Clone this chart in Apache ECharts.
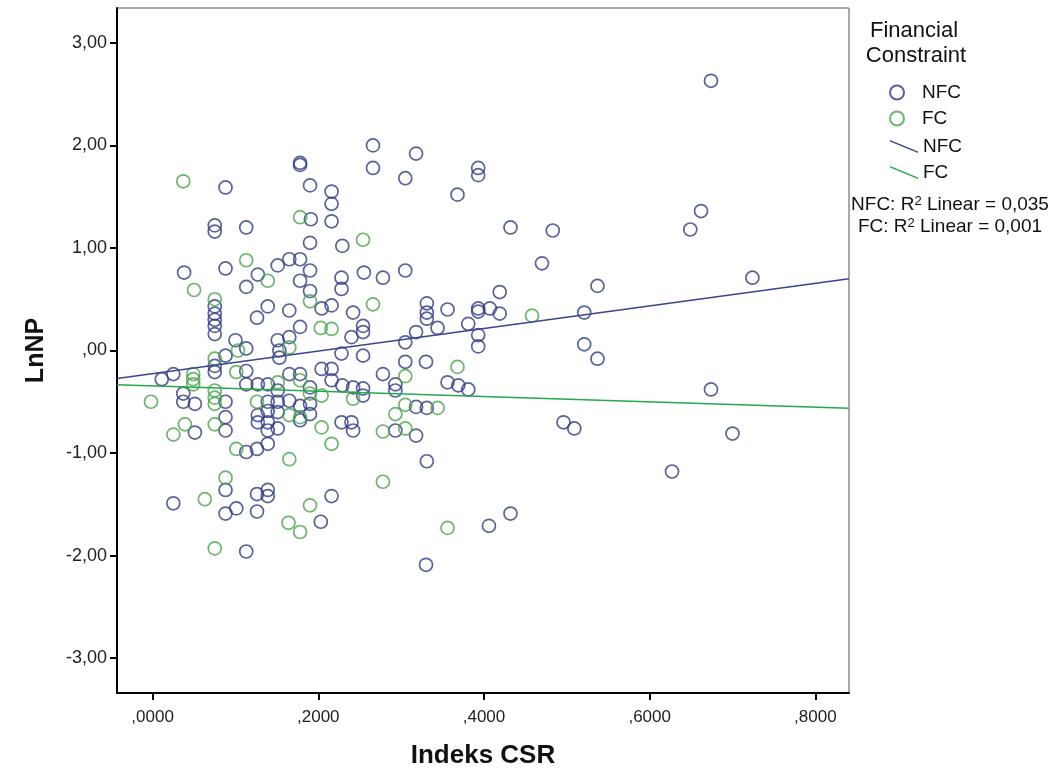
<!DOCTYPE html>
<html>
<head>
<meta charset="utf-8">
<script src="https://cdn.jsdelivr.net/npm/echarts@6/dist/echarts.min.js"></script>
<style>
html,body{margin:0;padding:0;background:#fff;}
#chart{width:1055px;height:777px;}
</style>
</head>
<body>
<div id="chart"></div>
<script>
// ---- data ----
const nfcX = [0.088,0.178,0.178,0.19,0.216,0.216,0.191,0.216,0.075,0.075,0.113,0.266,0.266,0.318,0.305,0.393,0.393,0.368,0.432,0.483,
0.674,0.662,0.649,0.724,0.537,0.537,0.674,0.70,0.627,0.255,0.278,0.305,0.47,0.419,0.331,0.331,0.331,0.356,0.393,0.393,
0.407,0.419,0.521,0.254,0.254,0.318,0.344,0.381,0.305,0.393,0.393,0.521,0.254,0.305,0.33,0.278,0.293,0.293,0.254,0.356,
0.369,0.381,0.318,0.331,0.293,0.318,0.496,0.509,0.331,0.406,0.432,0.33,0.088,0.025,0.088,0.101,0.126,0.139,0.139,0.126,
0.216,0.203,0.113,0.19,0.229,0.038,0.088,0.151,0.165,0.178,0.19,0.228,0.127,0.113,0.178,0.228,0.19,0.075,0.075,0.075,
0.075,0.075,0.139,0.126,0.165,0.178,0.204,0.216,0.242,0.24,0.151,0.165,0.10,0.113,0.088,0.153,0.153,0.228,0.075,0.011,
0.025,0.113,0.113,0.127,0.139,0.165,0.178,0.204,0.216,0.216,0.229,0.242,0.151,0.19,0.254,0.037,0.037,0.051,0.088,0.139,
0.151,0.139,0.151,0.165,0.178,0.19,0.127,0.127,0.139,0.139,0.151,0.178,0.19,0.051,0.088,0.088,0.228,0.24,0.242,0.113,
0.126,0.139,0.075];
const nfcY = [1.59,1.83,1.81,1.61,1.55,1.43,1.28,1.26,1.22,1.16,1.20,2.00,1.78,1.92,1.68,1.78,1.71,1.52,1.20,1.17,
2.63,1.36,1.18,0.71,0.63,-0.08,-0.38,-0.81,-1.18,0.76,0.71,0.78,0.85,0.57,0.46,0.37,0.31,0.40,0.41,0.38,
0.41,0.36,0.37,0.24,0.18,0.18,0.22,0.26,0.08,0.15,0.04,0.06,-0.05,-0.11,-0.11,-0.23,-0.33,-0.39,-0.37,-0.31,
-0.34,-0.38,-0.55,-0.56,-0.78,-0.83,-0.70,-0.76,-1.08,-1.71,-1.59,-2.09,-1.36,-1.49,-1.59,-1.54,-1.40,-1.36,-1.42,-1.57,
-1.42,-1.67,-1.96,1.05,1.02,0.76,0.80,0.83,0.89,0.89,0.78,0.71,0.74,0.62,0.68,0.60,0.58,0.43,0.36,0.30,
0.24,0.16,0.43,0.32,0.39,0.23,0.41,0.44,0.37,0.13,0.10,0.13,0.10,0.02,-0.05,0.00,-0.07,-0.03,-0.15,-0.28,
-0.23,-0.20,-0.33,-0.33,-0.33,-0.23,-0.23,-0.18,-0.18,-0.29,-0.34,-0.36,-0.39,-0.36,-0.44,-0.42,-0.50,-0.52,-0.50,-0.50,
-0.50,-0.59,-0.60,-0.49,-0.54,-0.52,-0.63,-0.70,-0.70,-0.78,-0.76,-0.68,-0.62,-0.80,-0.65,-0.78,-0.70,-0.70,-0.78,-0.99,
-0.96,-0.91,-0.21];
const fcX = [0.037,0.178,0.254,0.266,0.458,0.368,0.305,0.305,0.344,0.293,0.278,0.305,0.278,0.356,0.165,0.088,0.063,0.19,0.164,0.178,
0.075,0.113,0.139,0.05,0.19,0.075,0.203,0.216,0.165,0.103,0.075,0.049,0.049,0.049,0.101,0.151,0.178,0.19,0.204,0.242,
-0.002,0.075,0.075,0.075,0.126,0.165,0.178,0.039,0.025,0.075,0.204,0.216,0.101];
const fcY = [1.65,1.30,1.08,0.45,0.34,-0.16,-0.25,-0.53,-0.56,-0.62,-0.79,-0.76,-1.28,-1.73,-1.06,-1.24,-1.45,-1.51,-1.68,-1.77,
-1.93,0.88,0.68,0.59,0.48,0.50,0.22,0.21,0.03,0.00,-0.08,-0.23,-0.28,-0.33,-0.21,-0.31,-0.29,-0.42,-0.44,-0.47,
-0.50,-0.39,-0.46,-0.52,-0.50,-0.63,-0.65,-0.72,-0.82,-0.72,-0.75,-0.91,-0.96];
// linear fits: [intercept, slope]
const nfcFit = [-0.225, 1.10];
const fcFit = [-0.345, -0.26];
const xTicks = [0, 0.2, 0.4, 0.6, 0.8];
const xTickLabels = [',0000', ',2000', ',4000', ',6000', ',8000'];
const yTicks = [-3, -2, -1, 0, 1, 2, 3];
const yTickLabels = ['-3,00', '-2,00', '-1,00', ',00', '1,00', '2,00', '3,00'];
const xRange = [-0.043, 0.8406];
const yRange = [-3.34, 3.34];

// ---- build ----
const BLUE = '#2e3b82', GREEN = '#46a446', BLUE_LINE = '#3a4590', GREEN_LINE = '#27a84a';
const zipPts = (xs, ys) => xs.map((x, i) => [x, ys[i]]);
const fitLine = f => xRange.map(x => [x, f[0] + f[1] * x]);
const fmtTick = (vals, labels) => v => { const i = vals.findIndex(t => Math.abs(t - v) < 1e-9); return i >= 0 ? labels[i] : ''; };
const FONT = "'Liberation Sans', Arial, sans-serif";
const richSup = {a: {fontFamily: FONT, fontSize: 19, fill: '#111'}, s: {fontFamily: FONT, fontSize: 13, fill: '#111', verticalAlign: 'top', padding: [0, 0, 8, 0]}};

const chart = echarts.init(document.getElementById('chart'), null, {renderer: 'canvas'});
chart.setOption({
  animation: false,
  backgroundColor: '#fff',
  grid: {left: 117, right: 206, top: 8, bottom: 84, show: true, borderColor: '#555', borderWidth: 1},
  xAxis: {
    type: 'value', min: xRange[0], max: xRange[1],
    name: 'Indeks CSR', nameLocation: 'middle', nameGap: 50,
    nameTextStyle: {fontFamily: FONT, fontWeight: 'bold', fontSize: 26, color: '#111'},
    axisLine: {show: true, onZero: false, lineStyle: {color: '#000', width: 2}},
    axisTick: {show: true, customValues: xTicks, length: 7, lineStyle: {color: '#000', width: 2}},
    axisLabel: {customValues: xTicks, formatter: fmtTick(xTicks, xTickLabels), fontFamily: FONT, fontSize: 17, color: '#222', margin: 16},
    splitLine: {show: false}
  },
  yAxis: {
    type: 'value', min: yRange[0], max: yRange[1],
    name: 'LnNP', nameLocation: 'middle', nameGap: 68, nameRotate: 90,
    nameTextStyle: {fontFamily: FONT, fontWeight: 'bold', fontSize: 25, color: '#111'},
    axisLine: {show: true, onZero: false, lineStyle: {color: '#000', width: 2}},
    axisTick: {show: true, customValues: yTicks, length: 7, lineStyle: {color: '#000', width: 2}},
    axisLabel: {customValues: yTicks, formatter: fmtTick(yTicks, yTickLabels), fontFamily: FONT, fontSize: 18, color: '#222', margin: 10},
    splitLine: {show: false}
  },
  legend: [
    {
      orient: 'vertical', left: 884, top: 78, itemWidth: 14, itemHeight: 14, itemGap: 7,
      textStyle: {fontFamily: FONT, fontSize: 19, color: '#111', padding: [0, 0, 0, 13]},
      data: [{name: 'NFC', icon: 'circle'}, {name: 'FC', icon: 'circle'}]
    },
    {
      orient: 'vertical', left: 885, top: 132, itemWidth: 28, itemHeight: 14, itemGap: 7,
      textStyle: {fontFamily: FONT, fontSize: 19, color: '#111'},
      formatter: n => n.trim(),
      data: [
        {name: 'NFC ', icon: 'path://M0,0L28,11.5L28,13L0,1.5Z'},
        {name: 'FC ', icon: 'path://M0,0L28,11.5L28,13L0,1.5Z'}
      ]
    }
  ],
  graphic: [
    {type: 'text', style: {x: 914, y: 31, text: 'Financial', textAlign: 'center', textVerticalAlign: 'middle', font: "22px 'Liberation Sans', Arial, sans-serif", fill: '#111'}},
    {type: 'text', style: {x: 916, y: 56, text: 'Constraint', textAlign: 'center', textVerticalAlign: 'middle', font: "22px 'Liberation Sans', Arial, sans-serif", fill: '#111'}},
    {type: 'text', style: {x: 950, y: 205, text: '{a|NFC: R}{s|2}{a| Linear = 0,035}', textAlign: 'center', textVerticalAlign: 'middle', rich: richSup}},
    {type: 'text', style: {x: 950, y: 227, text: '{a|FC: R}{s|2}{a| Linear = 0,001}', textAlign: 'center', textVerticalAlign: 'middle', rich: richSup}}
  ],
  series: [
    {name: 'NFC', type: 'scatter', data: zipPts(nfcX, nfcY), symbol: 'circle', symbolSize: 13,
      itemStyle: {color: 'rgba(255,255,255,0)', borderColor: BLUE, borderWidth: 1.7}},
    {name: 'FC', type: 'scatter', data: zipPts(fcX, fcY), symbol: 'circle', symbolSize: 13,
      itemStyle: {color: 'rgba(255,255,255,0)', borderColor: GREEN, borderWidth: 1.7}},
    {name: 'NFC ', type: 'line', data: fitLine(nfcFit), showSymbol: false, symbol: 'none',
      color: BLUE_LINE, itemStyle: {color: BLUE_LINE}, lineStyle: {color: BLUE_LINE, width: 1.5}, z: 5},
    {name: 'FC ', type: 'line', data: fitLine(fcFit), showSymbol: false, symbol: 'none',
      color: GREEN_LINE, itemStyle: {color: GREEN_LINE}, lineStyle: {color: GREEN_LINE, width: 1.5}, z: 5}
  ]
});
</script>
</body>
</html>
